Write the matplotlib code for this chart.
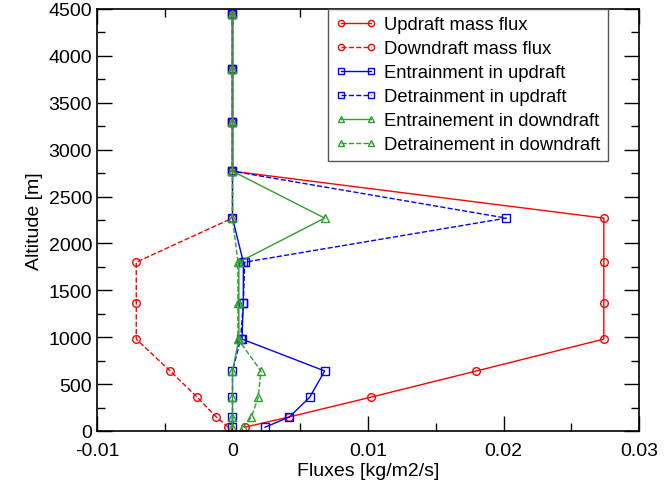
import matplotlib
matplotlib.use("Agg")
import matplotlib.pyplot as plt
from matplotlib.ticker import MultipleLocator

plt.rcParams['font.family'] = ['Liberation Sans', 'DejaVu Sans']

# altitude levels [m]
alt = [40, 150, 360, 640, 980, 1370, 1800, 2270, 2770, 3300, 3860, 4450]

# fluxes [kg/m2/s]
updraft = [0.0009, 0.0042, 0.0102, 0.0180, 0.0274, 0.0274, 0.0274, 0.0274, 0, 0, 0, 0]
downdraft = [-0.0003, -0.0012, -0.0026, -0.0046, -0.0071, -0.0071, -0.0071, 0, 0, 0, 0, 0]
entr_up = [0.0024, 0.0042, 0.0057, 0.0068, 0.0007, 0.0008, 0.0008, 0, 0, 0, 0, 0]
detr_up = [0, 0, 0, 0, 0.0006, 0.0008, 0.0009, 0.0202, 0, 0, 0, 0]
entr_down = [0, 0, 0, 0, 0.00047, 0.00047, 0.00047, 0.0068, 0, 0, 0, 0]
detr_down = [0.0008, 0.0014, 0.0019, 0.0021, 0.0004, 0.0004, 0.0004, 0, 0, 0, 0, 0]

red = "#ff0000"
blue = "#0000ff"
green = "#2ca02c"

fig = plt.figure(figsize=(6.72, 4.89), dpi=100)
ax = fig.add_axes([0.1443, 0.1166, 0.8067, 0.863])

mk = dict(markersize=5.5, markerfacecolor="none", markeredgewidth=1.0, linewidth=1.0)
ax.plot(updraft, alt, "-o", color=red, label="Updraft mass flux", **mk)
ax.plot(downdraft, alt, "--o", color=red, label="Downdraft mass flux", **mk)
ax.plot(entr_up, alt, "-s", color=blue, label="Entrainment in updraft", **mk)
ax.plot(detr_up, alt, "--s", color=blue, label="Detrainment in updraft", **mk)
ax.plot(entr_down, alt, "-^", color=green, label="Entrainement in downdraft", **mk)
ax.plot(detr_down, alt, "--^", color=green, label="Detrainement in downdraft", **mk)

ax.set_xlim(-0.01, 0.03)
ax.set_ylim(0, 4500)
ax.xaxis.set_major_locator(MultipleLocator(0.01))
ax.xaxis.set_minor_locator(MultipleLocator(0.005))
ax.yaxis.set_major_locator(MultipleLocator(500))
ax.yaxis.set_minor_locator(MultipleLocator(250))
ax.xaxis.set_major_formatter(plt.FuncFormatter(lambda v, p: "0" if abs(v) < 1e-9 else f"{v:g}"))
ax.tick_params(which="both", direction="in", top=True, right=True, labelsize=14)
ax.tick_params(which="major", length=11, width=1)
ax.tick_params(which="minor", length=6, width=1)
ax.tick_params(axis="x", which="major", pad=8)
for s in ax.spines.values():
    s.set_linewidth(1.2)

ax.set_xlabel("Fluxes [kg/m2/s]", fontsize=14, labelpad=2)
ax.set_ylabel("Altitude [m]", fontsize=14, labelpad=4)

leg = ax.legend(loc="upper right", bbox_to_anchor=(0.943, 1.0), borderaxespad=0,
                fontsize=13.3, numpoints=2, handlelength=2.2, handletextpad=0.45,
                labelspacing=0.38, borderpad=0.4, fancybox=False, framealpha=1,
                edgecolor="#555555")
leg.get_frame().set_linewidth(1.0)
for h in leg.legend_handles:
    h.set_markersize(4.5)

fig.savefig("out.png", dpi=100)
